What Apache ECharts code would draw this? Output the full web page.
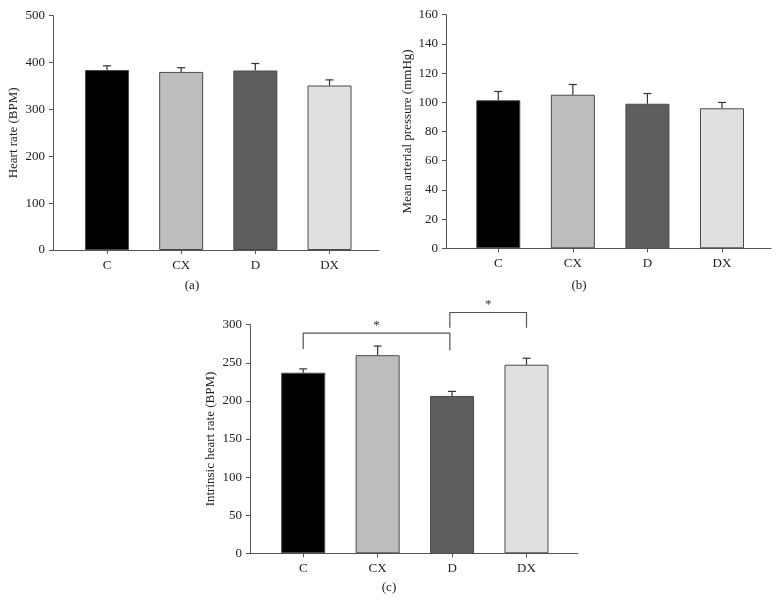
<!DOCTYPE html>
<html>
<head>
<meta charset="utf-8">
<script src="https://cdn.jsdelivr.net/npm/echarts@6/dist/echarts.min.js"></script>
<style>
html,body{margin:0;padding:0;background:#fff;}
#chart{width:782px;height:603px;}
</style>
</head>
<body>
<div id="chart"></div>
<script>
// ---- data ----
const categories = ['C', 'CX', 'D', 'DX'];
const barColors = ['#000000', '#bdbdbd', '#5e5e5e', '#e0e0e0'];

const heartRate = [384, 380, 383, 351];
const heartRateErr = [9, 9, 15, 12];

const meanArterial = [101.4, 105.2, 99, 95.9];
const meanArterialErr = [6, 7, 7, 4];

const intrinsicHR = [237, 260, 206.5, 247.5];
const intrinsicHRErr = [5, 12, 6, 8.5];

// significance brackets for panel (c)
const bracketFrom = [0, 1.97];
const bracketTo = [1.97, 3];
const bracketLevel = [289, 316];
const bracketLegLeft = [268, 296];
const bracketLegRight = [266, 296];
const bracketMark = ['*', '*'];

const yTitles = ['Heart rate (BPM)', 'Mean arterial pressure (mmHg)', 'Intrinsic heart rate (BPM)'];
const panelLabels = ['(a)', '(b)', '(c)'];

// ---- layout ----
const FONT = 'Liberation Serif';
const AXIS = '#555';
const TXT = '#222';

const grids = [
  {left: 53, top: 15.7, width: 326, height: 234.3},
  {left: 446, top: 14.7, width: 325, height: 233.6},
  {left: 250, top: 324.7, width: 328, height: 228.6}
];
const xRanges = [[-0.728, 3.667], [-0.701, 3.657], [-0.715, 3.692]];
const yRanges = [[0, 500, 100], [0, 160, 20], [0, 300, 50]];
const nameGaps = [33, 32, 33];
const panelData = [[heartRate, heartRateErr], [meanArterial, meanArterialErr], [intrinsicHR, intrinsicHRErr]];

const xAxes = grids.map((g, i) => ({
  type: 'value', gridIndex: i, min: xRanges[i][0], max: xRanges[i][1],
  axisLine: {show: true, onZero: false, lineStyle: {color: AXIS, width: 1}},
  axisTick: {show: true, customValues: [0, 1, 2, 3], length: 4, lineStyle: {color: AXIS}},
  axisLabel: {customValues: [0, 1, 2, 3], formatter: v => categories[Math.round(v)], color: TXT,
    fontFamily: FONT, fontSize: 13, margin: 9},
  splitLine: {show: false}
}));

const yAxes = grids.map((g, i) => ({
  type: 'value', gridIndex: i, min: yRanges[i][0], max: yRanges[i][1], interval: yRanges[i][2],
  name: yTitles[i], nameLocation: 'middle', nameGap: nameGaps[i],
  nameTextStyle: {fontFamily: FONT, fontSize: 13, color: TXT},
  axisLine: {show: true, onZero: false, lineStyle: {color: AXIS, width: 1}},
  axisTick: {show: true, length: 4, lineStyle: {color: AXIS}},
  axisLabel: {color: TXT, fontFamily: FONT, fontSize: 13, margin: 8},
  splitLine: {show: false}
}));

const series = [];
panelData.forEach((pd, i) => {
  const vals = pd[0], errs = pd[1];
  series.push({
    type: 'bar', xAxisIndex: i, yAxisIndex: i, barWidth: 44,
    data: vals.map((v, k) => ({value: [k, v], itemStyle: {color: barColors[k], borderColor: '#4a4a4a', borderWidth: 1}})),
    z: 2
  });
  series.push({
    type: 'custom', xAxisIndex: i, yAxisIndex: i, z: 3, clip: false,
    encode: {x: 0, y: 1},
    data: vals.map((v, k) => [k, v, errs[k]]),
    renderItem: (params, api) => {
      const x = api.value(0), v = api.value(1), e = api.value(2);
      const p0 = api.coord([x, v]);
      const p1 = api.coord([x, v + e]);
      const st = {stroke: '#333', lineWidth: 1.2};
      return {type: 'group', children: [
        {type: 'line', shape: {x1: p0[0], y1: p0[1], x2: p1[0], y2: p1[1]}, style: st},
        {type: 'line', shape: {x1: p1[0] - 4, y1: p1[1], x2: p1[0] + 4, y2: p1[1]}, style: st}
      ]};
    }
  });
});

series.push({
  type: 'custom', xAxisIndex: 2, yAxisIndex: 2, z: 4, clip: false,
  encode: {x: [0, 1], y: [2, 3, 4]},
  data: bracketFrom.map((f, k) => [f, bracketTo[k], bracketLevel[k], bracketLegLeft[k], bracketLegRight[k]]),
  renderItem: (params, api) => {
    const a = api.value(0), b = api.value(1), lv = api.value(2), ll = api.value(3), lr = api.value(4);
    const pA = api.coord([a, lv]), pB = api.coord([b, lv]);
    const pL = api.coord([a, ll]), pR = api.coord([b, lr]);
    const st = {stroke: '#555', lineWidth: 1.2, fill: null};
    return {type: 'group', children: [
      {type: 'polyline', shape: {points: [pL, pA, pB, pR]}, style: st},
      {type: 'text', x: (pA[0] + pB[0]) / 2, y: pA[1] - 8,
        style: {text: bracketMark[params.dataIndex], textAlign: 'center', textVerticalAlign: 'middle',
          font: '13px "' + FONT + '"', fill: '#333'}}
    ]};
  }
});

const labelPos = [[192, 286], [579, 286], [389, 588]];
const graphic = panelLabels.map((t, i) => ({
  type: 'text', x: labelPos[i][0], y: labelPos[i][1],
  style: {text: t, textAlign: 'center', textVerticalAlign: 'middle', font: '13px "' + FONT + '"', fill: TXT}
}));

const chart = echarts.init(document.getElementById('chart'), null, {renderer: 'canvas'});
chart.setOption({
  animation: false,
  backgroundColor: '#ffffff',
  grid: grids.map(g => Object.assign({containLabel: false}, g)),
  xAxis: xAxes,
  yAxis: yAxes,
  series: series,
  graphic: graphic
});
</script>
</body>
</html>
